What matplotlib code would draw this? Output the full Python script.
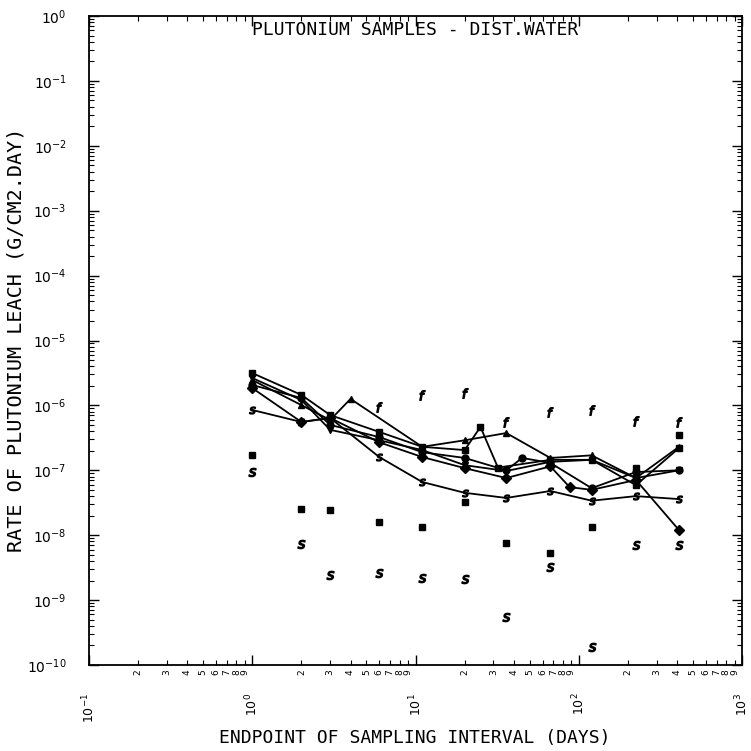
import numpy as np
import matplotlib
matplotlib.use('Agg')
import matplotlib.pyplot as plt
from matplotlib import ticker

# endpoint of sampling interval (days) and leach rate (g/cm2.day) per sample
x1 = [1, 2, 3, 4, 11, 20, 36, 67, 120, 224, 411]
y1 = [2.46e-6, 1.01e-6, 5.95e-7, 1.26e-6, 2.3e-7, 2.9e-7, 3.75e-7, 1.55e-7, 1.7e-7, 7.6e-8, 2.3e-7]

x2 = [1, 2, 3, 6, 11, 20, 25, 32, 67, 120, 224, 411]
y2 = [3.15e-6, 1.45e-6, 7.1e-7, 3.9e-7, 2.3e-7, 2.05e-7, 4.65e-7, 1.1e-7, 1.45e-7, 1.45e-7, 5.9e-8, 2.2e-7]

x3 = [1, 2, 3, 6, 11, 20, 36, 45, 67, 120, 224, 411]
y3 = [2.06e-6, 1.30e-6, 5.0e-7, 3.25e-7, 1.9e-7, 1.55e-7, 1.0e-7, 1.55e-7, 1.3e-7, 5.3e-8, 9.4e-8, 1.0e-7]

x4 = [1, 2, 3, 6, 11, 20, 36, 67, 88, 120, 224, 411]
y4 = [1.85e-6, 5.55e-7, 6.4e-7, 2.7e-7, 1.6e-7, 1.08e-7, 7.6e-8, 1.15e-7, 5.5e-8, 5.0e-8, 7.1e-8, 1.2e-8]

x5 = [1, 2, 3, 6, 11, 20, 36, 67, 120, 224, 411]
y5 = [8.5e-7, 5.55e-7, 6.4e-7, 1.6e-7, 6.6e-8, 4.5e-8, 3.75e-8, 4.8e-8, 3.4e-8, 4.0e-8, 3.6e-8]

x6 = [1, 2, 3, 6, 11, 20, 36, 67, 120, 224, 411]
y6 = [2.64e-6, 1.21e-6, 4.2e-7, 2.9e-7, 2.05e-7, 1.2e-7, 9.75e-8, 1.35e-7, 1.45e-7, 7.6e-8, 1.0e-7]

# unconnected points
xf = [6, 11, 20, 36, 67, 120, 224, 411]
yf = [9.4e-7, 1.45e-6, 1.55e-6, 5.55e-7, 7.9e-7, 8.5e-7, 5.75e-7, 5.55e-7]

xm = [1, 2, 3, 6, 11, 20, 36, 67, 120, 224, 411]
ym = [1.7e-7, 2.55e-8, 2.45e-8, 1.6e-8, 1.34e-8, 3.25e-8, 7.6e-9, 5.3e-9, 1.34e-8, 1.1e-7, 3.5e-7]

xs = [1, 2, 3, 6, 11, 20, 36, 67, 120, 224, 411]
ys = [9.5e-8, 7.3e-9, 2.45e-9, 2.6e-9, 2.2e-9, 2.1e-9, 5.5e-10, 3.25e-9, 1.9e-10, 7.1e-9, 7.1e-9]

fig = plt.figure(figsize=(7.51, 7.51), dpi=100)
ax = fig.add_axes([89 / 751, 1 - 665 / 751, 653 / 751, 649 / 751])

lines = [(x1, y1, '^'), (x2, y2, 's'), (x3, y3, 'o'), (x4, y4, 'D'), (x5, y5, '$s$'), (x6, y6, 'v')]
for xx, yy, mk in lines:
    ax.plot(xx, yy, color='black', lw=1.3, marker=mk, ms=5)

ax.plot(xf, yf, ls='none', marker='$f$', ms=7, color='black')
ax.plot(xm, ym, ls='none', marker='s', ms=4.5, color='black')
ax.plot(xs, ys, ls='none', marker='$s$', ms=6, color='black')

ax.set_xscale('log')
ax.set_yscale('log')
ax.set_xlim(0.1, 1000)
ax.set_ylim(1e-10, 1)

ax.yaxis.set_major_locator(ticker.LogLocator(base=10, numticks=20))
ax.yaxis.set_minor_locator(ticker.LogLocator(base=10, subs=np.arange(2, 10), numticks=20))
ax.yaxis.set_minor_formatter(ticker.NullFormatter())

ax.xaxis.set_major_locator(ticker.LogLocator(base=10, numticks=10))
ax.xaxis.set_minor_locator(ticker.LogLocator(base=10, subs=np.arange(2, 10), numticks=10))
ax.xaxis.set_minor_formatter(ticker.FuncFormatter(
    lambda v, p: str(int(round(v / 10 ** np.floor(np.log10(v) + 1e-9))))))

ax.tick_params(which='both', direction='in', top=True, right=True, color='black')
ax.tick_params(which='major', length=7, width=1)
ax.tick_params(which='minor', length=3.5, width=0.8)
ax.tick_params(axis='y', which='major', labelsize=10, pad=16)
ax.tick_params(axis='x', which='major', labelsize=9, pad=20, labelrotation=90)
ax.tick_params(axis='x', which='minor', labelsize=6.5, pad=3, labelrotation=90)

for sp in ax.spines.values():
    sp.set_linewidth(1.3)

mono = 'DejaVu Sans Mono'
ax.text(0.5, 0.992, 'PLUTONIUM SAMPLES - DIST.WATER', transform=ax.transAxes,
        ha='center', va='top', fontsize=13, family=mono)
fig.text(415 / 751, 1 - 738 / 751, 'ENDPOINT OF SAMPLING INTERVAL (DAYS)',
         ha='center', va='center', fontsize=13, family=mono)
fig.text(16 / 751, 1 - 340 / 751, 'RATE OF PLUTONIUM LEACH (G/CM2.DAY)',
         ha='center', va='center', rotation=90, fontsize=14.5, family=mono)

fig.savefig('out.png', dpi=100)
